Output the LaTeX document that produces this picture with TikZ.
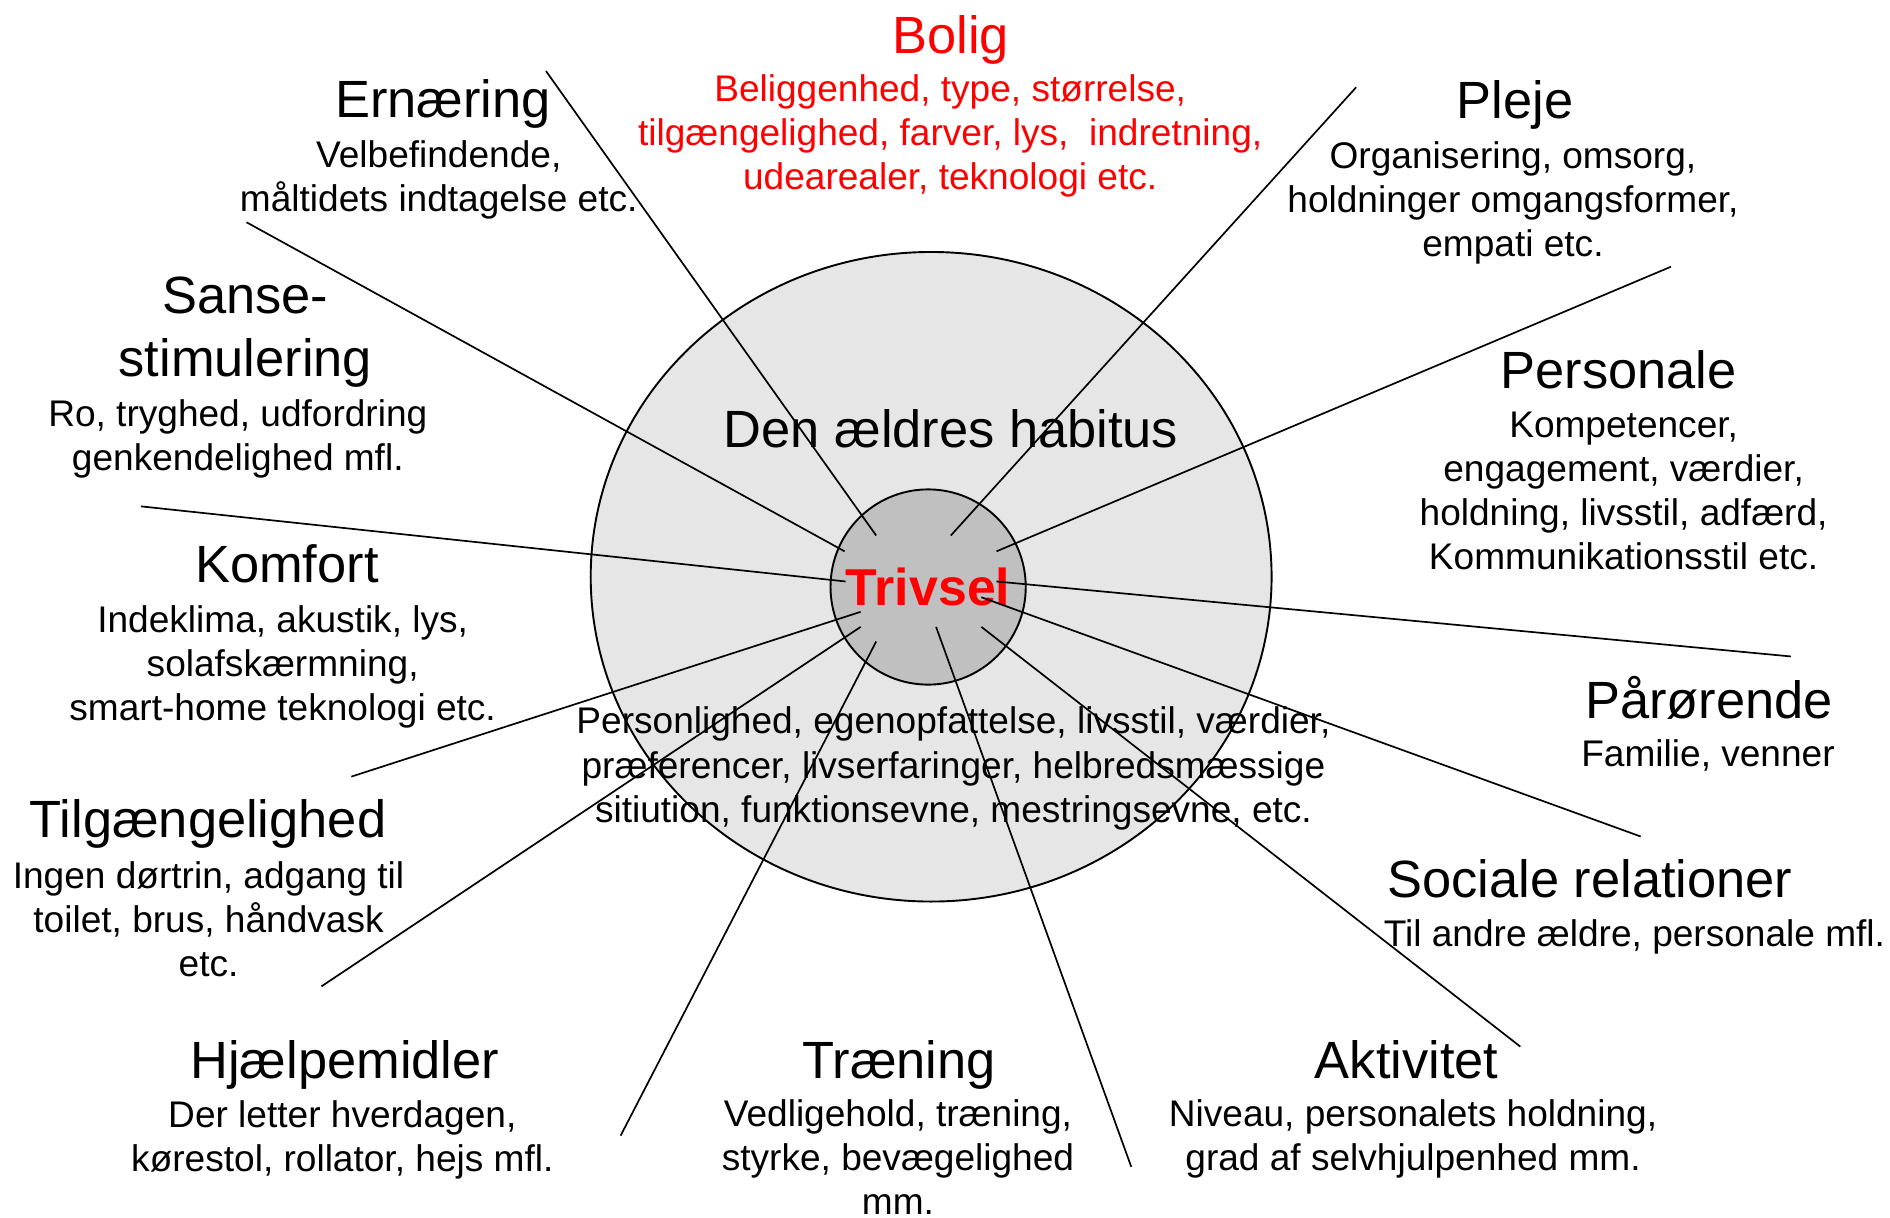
\documentclass[tikz,border=0pt]{standalone}
\usepackage{fontspec}
\setmainfont{Liberation Sans}
\usepackage{xcolor}
\usetikzlibrary{shapes.geometric}

\definecolor{habitusgray}{RGB}{230,230,230}
\definecolor{trivselgray}{RGB}{192,192,192}
\definecolor{boligred}{RGB}{255,0,0}

\begin{document}
\begin{tikzpicture}[
    x=0.02cm, y=-0.02cm,
    title/.style={anchor=base, inner sep=0pt, align=center, font=\fontsize{24.75}{30}\selectfont},
    desc/.style={anchor=north, inner sep=0pt, align=center, font=\fontsize{17.5}{20.8}\selectfont},
    spoke/.style={line width=0.8pt}
]
\useasboundingbox (0,0) rectangle (1568,1010);

\node[ellipse, draw, line width=0.9pt, fill=habitusgray, minimum width=11.3cm, minimum height=10.78cm] (habitus) at (772.5,478.5) {};
\node[circle, draw, line width=0.9pt, fill=trivselgray, inner sep=0pt, minimum size=3.24cm, text=boligred, font=\fontsize{24.5}{29}\selectfont\bfseries] (trivsel) at (770,487) {Trivsel};

\node[title] (habitustitle) at (789,371.5) {Den ældres habitus};
\node[desc] (habitustxt) at (791,586.3) {Personlighed, egenopfattelse, livsstil, værdier,\\præferencer, livserfaringer, helbredsmæssige\\sitiution, funktionsevne, mestringsevne, etc.};

\node[title, text=boligred] (bolig) at (788.6,44.2) {Bolig};
\node[desc, text=boligred] (boligtxt) at (788.3,61.5) {Beliggenhed, type, størrelse,\\tilgængelighed, farver, lys,\ \ indretning,\\udearealer, teknologi etc.};

\node[title] (ernaering) at (367.6,97.5) {Ernæring};
\node[desc] (ernaeringtxt) at (364,116.5) {Velbefindende,\\måltidets indtagelse etc.};

\node[title] (pleje) at (1256.8,98.5) {Pleje};
\node[desc] (plejetxt) at (1255.2,117) {Organisering, omsorg,\\holdninger omgangsformer,\\empati etc.};

\node[title, anchor=north] (sanse) at (203.6,229) {Sanse-\\stimulering};
\node[desc] (sansetxt) at (197.3,331) {Ro, tryghed, udfordring\\genkendelighed mfl.};

\node[title] (personale) at (1342.9,322.5) {Personale};
\node[desc] (personaletxt) at (1347,341.5) {Kompetencer,\\engagement, værdier,\\holdning, livsstil, adfærd,\\Kommunikationsstil etc.};

\node[title] (komfort) at (238,483.2) {Komfort};
\node[desc] (komforttxt) at (234.5,502.2) {Indeklima, akustik, lys,\\solafskærmning,\\smart-home teknologi etc.};

\node[title] (paaroerende) at (1417.8,595.9) {Pårørende};
\node[desc] (paaroerendetxt) at (1417,613.1) {Familie, venner};

\node[title] (tilgaengelighed) at (172.6,694.5) {Tilgængelighed};
\node[desc] (tilgaengelighedtxt) at (173,714.5) {Ingen dørtrin, adgang til\\toilet, brus, håndvask\\etc.};

\node[title] (sociale) at (1319,744.7) {Sociale relationer};
\node[desc] (socialetxt) at (1356,762.9) {Til andre ældre, personale mfl.};

\node[title] (hjaelpemidler) at (286,895) {Hjælpemidler};
\node[desc] (hjaelpemidlertxt) at (284,912.5) {Der letter hverdagen,\\kørestol, rollator, hejs mfl.};

\node[title] (traening) at (746,894.9) {Træning};
\node[desc] (traeningtxt) at (745,911.8) {Vedligehold, træning,\\styrke, bevægelighed\\mm.};

\node[title] (aktivitet) at (1167,895) {Aktivitet};
\node[desc] (aktivitettxt) at (1172.3,912.3) {Niveau, personalets holdning,\\grad af selvhjulpenhed mm.};

\coordinate (in1) at (726.9,444.3);
\coordinate (in2) at (788.8,444.3);
\coordinate (in3) at (826.7,457.4);
\coordinate (in4) at (700.7,457.4);
\coordinate (in5) at (701.5,482.4);
\coordinate (in6) at (826.7,482.4);
\coordinate (in7) at (714,507.6);
\coordinate (in8) at (814.2,495.5);
\coordinate (in9) at (714,520.1);
\coordinate (in10) at (726.9,532.2);
\coordinate (in11) at (776.6,520.1);
\coordinate (in12) at (814.2,520.1);

\coordinate (out1) at (453,59);
\coordinate (out2) at (1125.1,72.4);
\coordinate (out3) at (1386.2,221.3);
\coordinate (out4) at (204.5,184.4);
\coordinate (out5) at (117,420.1);
\coordinate (out6) at (1485.7,544.6);
\coordinate (out7) at (291.5,644.3);
\coordinate (out8) at (1361.2,694);
\coordinate (out9) at (266.7,818.3);
\coordinate (out10) at (514.9,942.1);
\coordinate (out11) at (938.5,968);
\coordinate (out12) at (1261.3,868.3);

\draw[spoke] (in1) -- (out1);
\draw[spoke] (in2) -- (out2);
\draw[spoke] (in3) -- (out3);
\draw[spoke] (in4) -- (out4);
\draw[spoke] (in5) -- (out5);
\draw[spoke] (in6) -- (out6);
\draw[spoke] (in7) -- (out7);
\draw[spoke] (in8) -- (out8);
\draw[spoke] (in9) -- (out9);
\draw[spoke] (in10) -- (out10);
\draw[spoke] (in11) -- (out11);
\draw[spoke] (in12) -- (out12);

\end{tikzpicture}
\end{document}
